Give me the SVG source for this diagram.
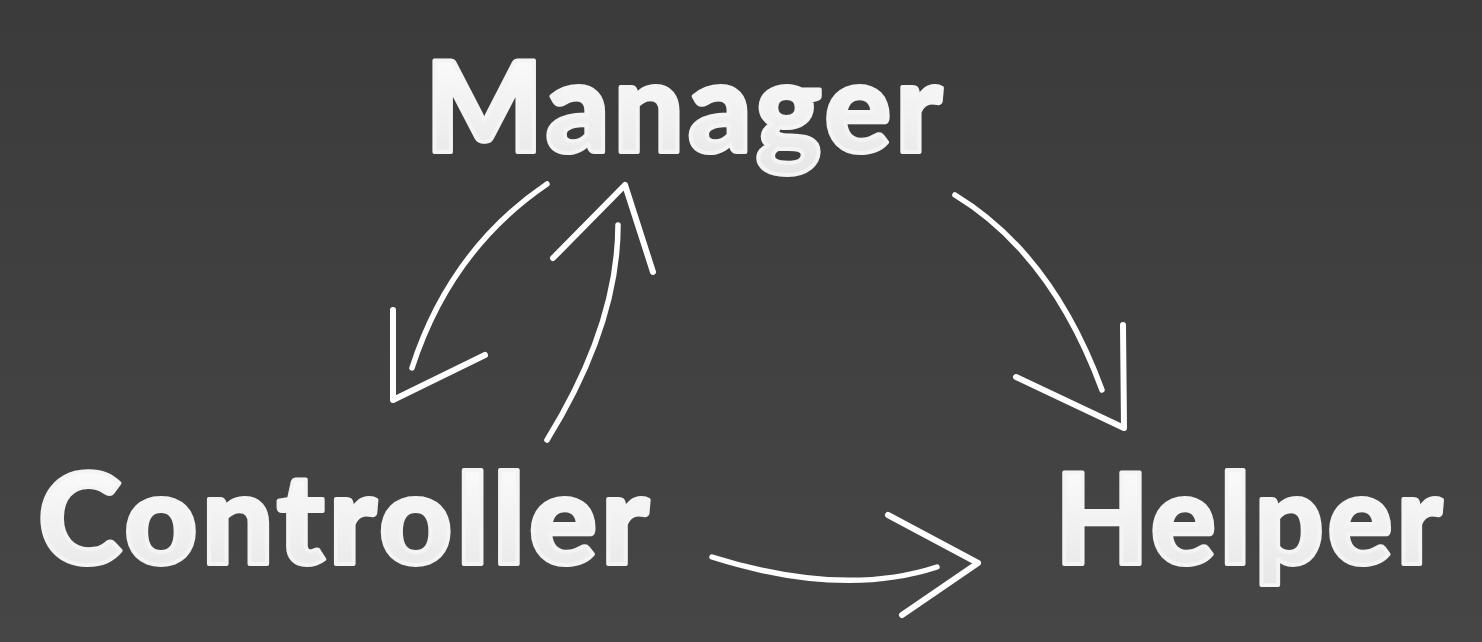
<svg xmlns="http://www.w3.org/2000/svg" width="1482" height="642" viewBox="0 0 1482 642">
  <defs>
    <linearGradient id="bg" x1="0" y1="0" x2="0" y2="1">
      <stop offset="0" stop-color="#3c3b3c"/>
      <stop offset="1" stop-color="#464646"/>
    </linearGradient>
    <linearGradient id="txt" x1="0" y1="0" x2="0" y2="1">
      <stop offset="0" stop-color="#ffffff"/>
      <stop offset="1" stop-color="#e6e6e6"/>
    </linearGradient>
    <style>
      .label { font-family: "Lato", "Open Sans", "DejaVu Sans", sans-serif; font-weight: 900; font-size: 125px; letter-spacing: 4px; fill: url(#txt); stroke: #f4f4f4; stroke-width: 4; stroke-linejoin: round; }
      .shaft { fill: none; stroke: #ffffff; stroke-width: 5.5; stroke-linecap: round; }
      .head { fill: none; stroke: #ffffff; stroke-width: 6; stroke-linecap: round; stroke-linejoin: round; }
    </style>
  </defs>
  <rect x="0" y="0" width="1482" height="642" fill="url(#bg)"/>

  <g id="node-manager">
    <text class="label" x="425" y="152" textLength="521" lengthAdjust="spacingAndGlyphs">Manager</text>
  </g>
  <g id="node-controller">
    <text class="label" x="38" y="564" textLength="615" lengthAdjust="spacingAndGlyphs">Controller</text>
  </g>
  <g id="node-helper">
    <text class="label" x="1055" y="564" textLength="391" lengthAdjust="spacingAndGlyphs">Helper</text>
  </g>

  <g id="connectors">
    <g id="manager-to-controller">
      <path class="shaft" d="M547,184 Q450,250 412,368"/>
      <polyline class="head" points="393,310 393,400 485,355"/>
    </g>
    <g id="controller-to-manager">
      <path class="shaft" d="M547,440 Q618,325 618,225"/>
      <polyline class="head" points="553,258 625,185 653,272"/>
    </g>
    <g id="manager-to-helper">
      <path class="shaft" d="M955,195 Q1052,254 1102,390"/>
      <polyline class="head" points="1123,325 1124,428 1016,377"/>
    </g>
    <g id="controller-to-helper">
      <path class="shaft" d="M712,557 Q842,598 937,567"/>
      <polyline class="head" points="888,515 978,563 902,615"/>
    </g>
  </g>
</svg>
